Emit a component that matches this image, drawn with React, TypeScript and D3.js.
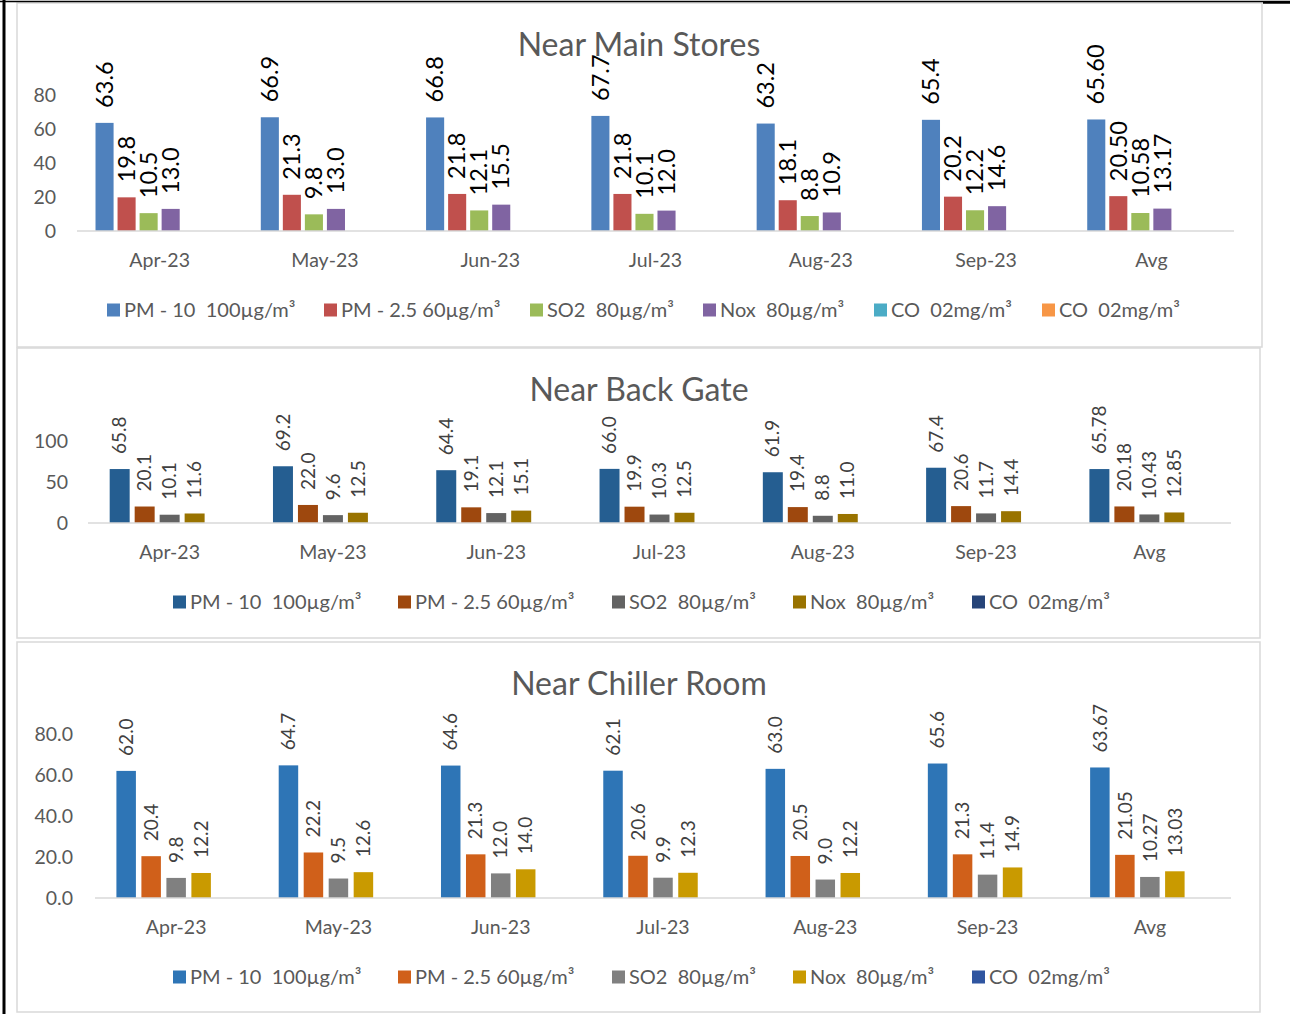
import React from "react";
import * as d3 from "d3";

// ---------- data ----------
const categories = ["Apr-23", "May-23", "Jun-23", "Jul-23", "Aug-23", "Sep-23", "Avg"];
const labelDecimals = [1, 1, 1, 1, 1, 1, 2];

const seriesNamesMain = [
  "PM - 10  100µg/m³",
  "PM - 2.5 60µg/m³",
  "SO2  80µg/m³",
  "Nox  80µg/m³",
  "CO  02mg/m³",
  "CO  02mg/m³",
];
const seriesNamesFive = [
  "PM - 10  100µg/m³",
  "PM - 2.5 60µg/m³",
  "SO2  80µg/m³",
  "Nox  80µg/m³",
  "CO  02mg/m³",
];

// Near Main Stores
const mainPM10 = [63.6, 66.9, 66.8, 67.7, 63.2, 65.4, 65.6];
const mainPM25 = [19.8, 21.3, 21.8, 21.8, 18.1, 20.2, 20.5];
const mainSO2 = [10.5, 9.8, 12.1, 10.1, 8.8, 12.2, 10.58];
const mainNox = [13.0, 13.0, 15.5, 12.0, 10.9, 14.6, 13.17];
const mainCO1: (number | null)[] = [null, null, null, null, null, null, null];
const mainCO2: (number | null)[] = [null, null, null, null, null, null, null];

// Near Back Gate
const gatePM10 = [65.8, 69.2, 64.4, 66.0, 61.9, 67.4, 65.78];
const gatePM25 = [20.1, 22.0, 19.1, 19.9, 19.4, 20.6, 20.18];
const gateSO2 = [10.1, 9.6, 12.1, 10.3, 8.8, 11.7, 10.43];
const gateNox = [11.6, 12.5, 15.1, 12.5, 11.0, 14.4, 12.85];
const gateCO: (number | null)[] = [null, null, null, null, null, null, null];

// Near Chiller Room
const chillPM10 = [62.0, 64.7, 64.6, 62.1, 63.0, 65.6, 63.67];
const chillPM25 = [20.4, 22.2, 21.3, 20.6, 20.5, 21.3, 21.05];
const chillSO2 = [9.8, 9.5, 12.0, 9.9, 9.0, 11.4, 10.27];
const chillNox = [12.2, 12.6, 14.0, 12.3, 12.2, 14.9, 13.03];
const chillCO: (number | null)[] = [null, null, null, null, null, null, null];

const ticksMain = [0, 20, 40, 60, 80];
const ticksGate = [0, 50, 100];
const ticksChill = [0, 20, 40, 60, 80];

// ---------- styles ----------
const FONT = "Lato, 'Open Sans', 'DejaVu Sans', sans-serif";
const colorsMain = ["#4F81BD", "#C0504D", "#9BBB59", "#8064A2", "#4BACC6", "#F79646"];
const colorsGate = ["#255E91", "#9E480E", "#636363", "#997300", "#264478"];
const colorsChill = ["#2E75B6", "#D0601A", "#808080", "#C99A00", "#2F55A0"];

type PanelCfg = {
  title: string;
  box: [number, number, number, number];
  titleY: number;
  plotX: [number, number];
  yPix: [number, number];
  yDomain: [number, number];
  ticks: number[];
  tickFmt: (v: number) => string;
  tickX: number;
  catY: number;
  legendY: number;
  legendX: number[];
  names: string[];
  values: (number | null)[][];
  colors: string[];
  labelColor: string;
  labelSize: number;
  groupFrac: number;
  barPad: number;
};

const panels: PanelCfg[] = [
  {
    title: "Near Main Stores",
    box: [17, 3, 1262, 347],
    titleY: 45,
    plotX: [77, 1234],
    yPix: [231, 95],
    yDomain: [0, 80],
    ticks: ticksMain,
    tickFmt: d3.format("d"),
    tickX: 56,
    catY: 260,
    legendY: 310,
    legendX: [107, 324, 530, 703, 874, 1042],
    names: seriesNamesMain,
    values: [mainPM10, mainPM25, mainSO2, mainNox, mainCO1, mainCO2],
    colors: colorsMain,
    labelColor: "#000000",
    labelSize: 23.5,
    groupFrac: 0.8,
    barPad: 0.18,
  },
  {
    title: "Near Back Gate",
    box: [17, 348, 1260, 638],
    titleY: 390,
    plotX: [88, 1231],
    yPix: [523, 441],
    yDomain: [0, 100],
    ticks: ticksGate,
    tickFmt: d3.format("d"),
    tickX: 68,
    catY: 552,
    legendY: 602,
    legendX: [173, 398, 612, 793, 972],
    names: seriesNamesFive,
    values: [gatePM10, gatePM25, gateSO2, gateNox, gateCO],
    colors: colorsGate,
    labelColor: "#404040",
    labelSize: 19,
    groupFrac: 0.765,
    barPad: 0.2,
  },
  {
    title: "Near Chiller Room",
    box: [17, 642, 1260, 1012],
    titleY: 684,
    plotX: [95, 1231],
    yPix: [898, 734],
    yDomain: [0, 80],
    ticks: ticksChill,
    tickFmt: d3.format(".1f"),
    tickX: 73,
    catY: 927,
    legendY: 977,
    legendX: [173, 398, 612, 793, 972],
    names: seriesNamesFive,
    values: [chillPM10, chillPM25, chillSO2, chillNox, chillCO],
    colors: colorsChill,
    labelColor: "#404040",
    labelSize: 19,
    groupFrac: 0.77,
    barPad: 0.22,
  },
];

function Panel({ cfg }: { cfg: PanelCfg }) {
  const [bx0, by0, bx1, by1] = cfg.box;
  const x0 = d3.scaleBand<string>().domain(categories).range(cfg.plotX).padding(0);
  const bw = x0.bandwidth();
  const keys = cfg.names.map((_, i) => String(i));
  const g = cfg.groupFrac;
  const x1 = d3
    .scaleBand<string>()
    .domain(keys)
    .range([(bw * (1 - g)) / 2, (bw * (1 + g)) / 2])
    .paddingInner(cfg.barPad)
    .paddingOuter(cfg.barPad / 2);
  const y = d3.scaleLinear().domain(cfg.yDomain).range(cfg.yPix);
  const y0 = y(0);

  return (
    <g>
      <rect x={bx0} y={by0} width={bx1 - bx0} height={by1 - by0} fill="#ffffff" stroke="#D9D9D9" strokeWidth={1.5} />
      <text x={639} y={cfg.titleY} textAnchor="middle" dy="0.35em" fontSize={32} fill="#595959" fontFamily={FONT}>
        {cfg.title}
      </text>
      {cfg.ticks.map((t) => (
        <text key={t} x={cfg.tickX} y={y(t)} dy="0.35em" textAnchor="end" fontSize={19.5} fill="#595959" fontFamily={FONT}>
          {cfg.tickFmt(t)}
        </text>
      ))}
      {categories.map((c, ci) => {
        const gx = x0(c)!;
        return (
          <g key={c}>
            {cfg.values.map((vals, si) => {
              const v = vals[ci];
              if (v === null || v === undefined) return null;
              const bx = gx + x1(String(si))!;
              const w = x1.bandwidth();
              const top = y(v);
              return (
                <g key={si}>
                  <rect x={bx} y={top} width={w} height={y0 - top} fill={cfg.colors[si]} />
                  <text
                    transform={`translate(${bx + w / 2},${top - 15}) rotate(-90)`}
                    dy="0.35em"
                    textAnchor="start"
                    fontSize={cfg.labelSize}
                    fill={cfg.labelColor}
                    fontFamily={FONT}
                  >
                    {v.toFixed(labelDecimals[ci])}
                  </text>
                </g>
              );
            })}
            <text x={gx + bw / 2} y={cfg.catY} dy="0.35em" textAnchor="middle" fontSize={19.5} fill="#595959" fontFamily={FONT}>
              {c}
            </text>
          </g>
        );
      })}
      <line x1={cfg.plotX[0]} x2={cfg.plotX[1]} y1={y0} y2={y0} stroke="#D9D9D9" strokeWidth={1.5} />
      {cfg.names.map((n, i) => (
        <g key={i}>
          <rect x={cfg.legendX[i]} y={cfg.legendY - 6.5} width={13} height={13} fill={cfg.colors[i]} />
          <text
            x={cfg.legendX[i] + 17}
            y={cfg.legendY}
            dy="0.35em"
            fontSize={20}
            fill="#595959"
            fontFamily={FONT}
            style={{ whiteSpace: "pre" }}
          >
            {n}
          </text>
        </g>
      ))}
    </g>
  );
}

export default function App() {
  return (
    <svg
      width={1290}
      height={1014}
      viewBox="0 0 1290 1014"
      style={{ position: "absolute", left: 0, top: 0, background: "#ffffff" }}
    >
      <rect x={0} y={0} width={1290} height={1014} fill="#ffffff" />
      {panels.map((p) => (
        <Panel key={p.title} cfg={p} />
      ))}
      <line x1={0} x2={1290} y1={1.5} y2={1.5} stroke="#000" strokeWidth={1.5} />
      <line x1={1263} x2={1290} y1={2.5} y2={2.5} stroke="#000" strokeWidth={2.5} />
      <line x1={4} x2={4} y1={0} y2={1014} stroke="#000" strokeWidth={3} />
    </svg>
  );
}
